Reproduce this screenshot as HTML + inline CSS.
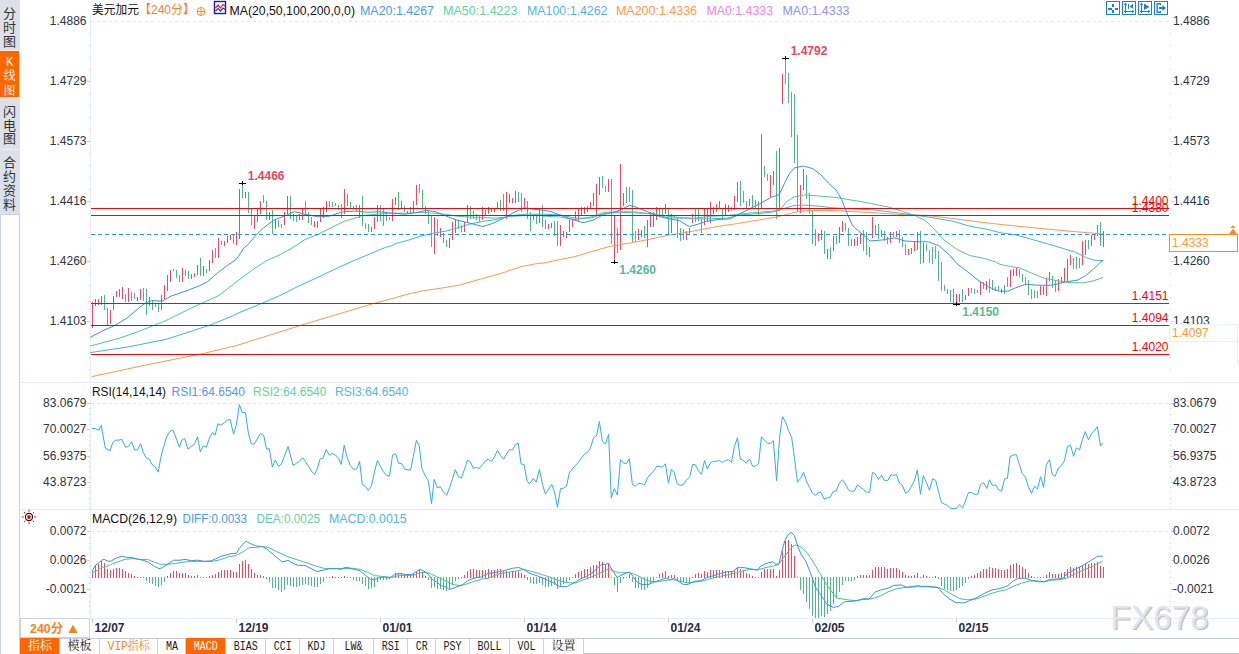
<!DOCTYPE html>
<html lang="zh"><head><meta charset="utf-8"><title>美元加元 240分 K线图</title>
<style>html,body{margin:0;padding:0;background:#fff;overflow:hidden}svg{display:block}text{white-space:pre}</style>
</head><body>
<svg width="1239" height="654" viewBox="0 0 1239 654">
<rect x="0" y="0" width="1239" height="654" fill="#fff"/>
<g shape-rendering="crispEdges">
<rect x="0" y="0" width="20" height="214" fill="#dee0e7" />
<rect x="0" y="51" width="19" height="46" fill="#ff6600" />
<line x1="0" y1="50.5" x2="20" y2="50.5" stroke="#eceef2" stroke-width="1" />
<line x1="0" y1="149.5" x2="20" y2="149.5" stroke="#eceef2" stroke-width="1" />
<rect x="0" y="214" width="20" height="440" fill="#ffffff" />
<line x1="0.5" y1="214" x2="0.5" y2="654" stroke="#c9d3e0" stroke-width="1" />
<line x1="19.5" y1="214" x2="19.5" y2="654" stroke="#c9d3e0" stroke-width="1" />
<line x1="0" y1="214.5" x2="20" y2="214.5" stroke="#c9d3e0" stroke-width="1" />
</g>
<text x="9.5" y="18.2" font-size="13" fill="#333" text-anchor="middle" font-weight="normal" font-family='"Liberation Sans","Noto Sans CJK SC",sans-serif' >分</text>
<text x="9.5" y="32.0" font-size="13" fill="#333" text-anchor="middle" font-weight="normal" font-family='"Liberation Sans","Noto Sans CJK SC",sans-serif' >时</text>
<text x="9.5" y="46.0" font-size="13" fill="#333" text-anchor="middle" font-weight="normal" font-family='"Liberation Sans","Noto Sans CJK SC",sans-serif' >图</text>
<text x="9.5" y="66.2" font-size="12" fill="#fff" text-anchor="middle" font-weight="normal" font-family='"Liberation Mono","Noto Serif CJK SC",serif' >K</text>
<text x="9.5" y="80.2" font-size="12" fill="#fff" text-anchor="middle" font-weight="normal" font-family='"Liberation Mono","Noto Serif CJK SC",serif' >线</text>
<text x="9.5" y="94.7" font-size="12" fill="#fff" text-anchor="middle" font-weight="normal" font-family='"Liberation Mono","Noto Serif CJK SC",serif' >图</text>
<text x="9.5" y="115.7" font-size="13" fill="#333" text-anchor="middle" font-weight="normal" font-family='"Liberation Sans","Noto Sans CJK SC",sans-serif' >闪</text>
<text x="9.5" y="129.5" font-size="13" fill="#333" text-anchor="middle" font-weight="normal" font-family='"Liberation Sans","Noto Sans CJK SC",sans-serif' >电</text>
<text x="9.5" y="143.2" font-size="13" fill="#333" text-anchor="middle" font-weight="normal" font-family='"Liberation Sans","Noto Sans CJK SC",sans-serif' >图</text>
<text x="9.5" y="167.29999999999998" font-size="13" fill="#333" text-anchor="middle" font-weight="normal" font-family='"Liberation Sans","Noto Sans CJK SC",sans-serif' >合</text>
<text x="9.5" y="181.2" font-size="13" fill="#333" text-anchor="middle" font-weight="normal" font-family='"Liberation Sans","Noto Sans CJK SC",sans-serif' >约</text>
<text x="9.5" y="194.7" font-size="13" fill="#333" text-anchor="middle" font-weight="normal" font-family='"Liberation Sans","Noto Sans CJK SC",sans-serif' >资</text>
<text x="9.5" y="208.7" font-size="13" fill="#333" text-anchor="middle" font-weight="normal" font-family='"Liberation Sans","Noto Sans CJK SC",sans-serif' >料</text>
<g shape-rendering="crispEdges">
<line x1="20" y1="382.5" x2="1239" y2="382.5" stroke="#e8edf4" stroke-width="1" />
<line x1="20" y1="509.5" x2="1239" y2="509.5" stroke="#e8edf4" stroke-width="1" />
<line x1="20" y1="618.5" x2="1239" y2="618.5" stroke="#e8edf4" stroke-width="1" />
<line x1="90.5" y1="16" x2="90.5" y2="618" stroke="#e8edf4" stroke-width="1" />
<line x1="91" y1="21.5" x2="1169" y2="21.5" stroke="#e6e9ee" stroke-width="1" stroke-dasharray="3 3"/>
<line x1="91" y1="403.5" x2="1169" y2="403.5" stroke="#e6e9ee" stroke-width="1" stroke-dasharray="3 3"/>
<line x1="91" y1="531.5" x2="1169" y2="531.5" stroke="#e6e9ee" stroke-width="1" stroke-dasharray="3 3"/>
</g>
<g shape-rendering="crispEdges">
<line x1="89" y1="33.5" x2="90" y2="33.5" stroke="#cdd3dc" stroke-width="1" />
<line x1="1170" y1="33.5" x2="1171" y2="33.5" stroke="#cdd3dc" stroke-width="1" />
<line x1="89" y1="45.5" x2="90" y2="45.5" stroke="#cdd3dc" stroke-width="1" />
<line x1="1170" y1="45.5" x2="1171" y2="45.5" stroke="#cdd3dc" stroke-width="1" />
<line x1="89" y1="57.5" x2="90" y2="57.5" stroke="#cdd3dc" stroke-width="1" />
<line x1="1170" y1="57.5" x2="1171" y2="57.5" stroke="#cdd3dc" stroke-width="1" />
<line x1="89" y1="69.5" x2="90" y2="69.5" stroke="#cdd3dc" stroke-width="1" />
<line x1="1170" y1="69.5" x2="1171" y2="69.5" stroke="#cdd3dc" stroke-width="1" />
<line x1="87" y1="81.5" x2="90" y2="81.5" stroke="#c5ccd6" stroke-width="1" />
<line x1="1171" y1="81.5" x2="1174" y2="81.5" stroke="#c5ccd6" stroke-width="1" />
<line x1="89" y1="93.5" x2="90" y2="93.5" stroke="#cdd3dc" stroke-width="1" />
<line x1="1170" y1="93.5" x2="1171" y2="93.5" stroke="#cdd3dc" stroke-width="1" />
<line x1="89" y1="105.5" x2="90" y2="105.5" stroke="#cdd3dc" stroke-width="1" />
<line x1="1170" y1="105.5" x2="1171" y2="105.5" stroke="#cdd3dc" stroke-width="1" />
<line x1="89" y1="117.5" x2="90" y2="117.5" stroke="#cdd3dc" stroke-width="1" />
<line x1="1170" y1="117.5" x2="1171" y2="117.5" stroke="#cdd3dc" stroke-width="1" />
<line x1="89" y1="129.5" x2="90" y2="129.5" stroke="#cdd3dc" stroke-width="1" />
<line x1="1170" y1="129.5" x2="1171" y2="129.5" stroke="#cdd3dc" stroke-width="1" />
<line x1="87" y1="141.5" x2="90" y2="141.5" stroke="#c5ccd6" stroke-width="1" />
<line x1="1171" y1="141.5" x2="1174" y2="141.5" stroke="#c5ccd6" stroke-width="1" />
<line x1="89" y1="153.5" x2="90" y2="153.5" stroke="#cdd3dc" stroke-width="1" />
<line x1="1170" y1="153.5" x2="1171" y2="153.5" stroke="#cdd3dc" stroke-width="1" />
<line x1="89" y1="165.5" x2="90" y2="165.5" stroke="#cdd3dc" stroke-width="1" />
<line x1="1170" y1="165.5" x2="1171" y2="165.5" stroke="#cdd3dc" stroke-width="1" />
<line x1="89" y1="177.5" x2="90" y2="177.5" stroke="#cdd3dc" stroke-width="1" />
<line x1="1170" y1="177.5" x2="1171" y2="177.5" stroke="#cdd3dc" stroke-width="1" />
<line x1="89" y1="189.5" x2="90" y2="189.5" stroke="#cdd3dc" stroke-width="1" />
<line x1="1170" y1="189.5" x2="1171" y2="189.5" stroke="#cdd3dc" stroke-width="1" />
<line x1="87" y1="201.5" x2="90" y2="201.5" stroke="#c5ccd6" stroke-width="1" />
<line x1="1171" y1="201.5" x2="1174" y2="201.5" stroke="#c5ccd6" stroke-width="1" />
<line x1="89" y1="213.5" x2="90" y2="213.5" stroke="#cdd3dc" stroke-width="1" />
<line x1="1170" y1="213.5" x2="1171" y2="213.5" stroke="#cdd3dc" stroke-width="1" />
<line x1="89" y1="225.5" x2="90" y2="225.5" stroke="#cdd3dc" stroke-width="1" />
<line x1="1170" y1="225.5" x2="1171" y2="225.5" stroke="#cdd3dc" stroke-width="1" />
<line x1="89" y1="237.5" x2="90" y2="237.5" stroke="#cdd3dc" stroke-width="1" />
<line x1="1170" y1="237.5" x2="1171" y2="237.5" stroke="#cdd3dc" stroke-width="1" />
<line x1="89" y1="249.5" x2="90" y2="249.5" stroke="#cdd3dc" stroke-width="1" />
<line x1="1170" y1="249.5" x2="1171" y2="249.5" stroke="#cdd3dc" stroke-width="1" />
<line x1="87" y1="261.5" x2="90" y2="261.5" stroke="#c5ccd6" stroke-width="1" />
<line x1="1171" y1="261.5" x2="1174" y2="261.5" stroke="#c5ccd6" stroke-width="1" />
<line x1="89" y1="273.5" x2="90" y2="273.5" stroke="#cdd3dc" stroke-width="1" />
<line x1="1170" y1="273.5" x2="1171" y2="273.5" stroke="#cdd3dc" stroke-width="1" />
<line x1="89" y1="285.5" x2="90" y2="285.5" stroke="#cdd3dc" stroke-width="1" />
<line x1="1170" y1="285.5" x2="1171" y2="285.5" stroke="#cdd3dc" stroke-width="1" />
<line x1="89" y1="297.5" x2="90" y2="297.5" stroke="#cdd3dc" stroke-width="1" />
<line x1="1170" y1="297.5" x2="1171" y2="297.5" stroke="#cdd3dc" stroke-width="1" />
<line x1="89" y1="309.5" x2="90" y2="309.5" stroke="#cdd3dc" stroke-width="1" />
<line x1="1170" y1="309.5" x2="1171" y2="309.5" stroke="#cdd3dc" stroke-width="1" />
<line x1="87" y1="321.5" x2="90" y2="321.5" stroke="#c5ccd6" stroke-width="1" />
<line x1="1171" y1="321.5" x2="1174" y2="321.5" stroke="#c5ccd6" stroke-width="1" />
<line x1="89" y1="333.5" x2="90" y2="333.5" stroke="#cdd3dc" stroke-width="1" />
<line x1="1170" y1="333.5" x2="1171" y2="333.5" stroke="#cdd3dc" stroke-width="1" />
<line x1="89" y1="345.5" x2="90" y2="345.5" stroke="#cdd3dc" stroke-width="1" />
<line x1="1170" y1="345.5" x2="1171" y2="345.5" stroke="#cdd3dc" stroke-width="1" />
<line x1="89" y1="357.5" x2="90" y2="357.5" stroke="#cdd3dc" stroke-width="1" />
<line x1="1170" y1="357.5" x2="1171" y2="357.5" stroke="#cdd3dc" stroke-width="1" />
<line x1="89" y1="369.5" x2="90" y2="369.5" stroke="#cdd3dc" stroke-width="1" />
<line x1="1170" y1="369.5" x2="1171" y2="369.5" stroke="#cdd3dc" stroke-width="1" />
</g>
<text x="86.5" y="24.8" font-size="12" fill="#2f3245" text-anchor="end" font-weight="normal" font-family='"Liberation Sans","Noto Sans CJK SC",sans-serif' >1.4886</text>
<text x="1173" y="24.8" font-size="12" fill="#2f3245" text-anchor="start" font-weight="normal" font-family='"Liberation Sans","Noto Sans CJK SC",sans-serif' >1.4886</text>
<text x="86.5" y="84.8" font-size="12" fill="#2f3245" text-anchor="end" font-weight="normal" font-family='"Liberation Sans","Noto Sans CJK SC",sans-serif' >1.4729</text>
<text x="1173" y="84.8" font-size="12" fill="#2f3245" text-anchor="start" font-weight="normal" font-family='"Liberation Sans","Noto Sans CJK SC",sans-serif' >1.4729</text>
<text x="86.5" y="144.8" font-size="12" fill="#2f3245" text-anchor="end" font-weight="normal" font-family='"Liberation Sans","Noto Sans CJK SC",sans-serif' >1.4573</text>
<text x="1173" y="144.8" font-size="12" fill="#2f3245" text-anchor="start" font-weight="normal" font-family='"Liberation Sans","Noto Sans CJK SC",sans-serif' >1.4573</text>
<text x="86.5" y="204.8" font-size="12" fill="#2f3245" text-anchor="end" font-weight="normal" font-family='"Liberation Sans","Noto Sans CJK SC",sans-serif' >1.4416</text>
<text x="1173" y="204.8" font-size="12" fill="#2f3245" text-anchor="start" font-weight="normal" font-family='"Liberation Sans","Noto Sans CJK SC",sans-serif' >1.4416</text>
<text x="86.5" y="264.8" font-size="12" fill="#2f3245" text-anchor="end" font-weight="normal" font-family='"Liberation Sans","Noto Sans CJK SC",sans-serif' >1.4260</text>
<text x="1173" y="264.8" font-size="12" fill="#2f3245" text-anchor="start" font-weight="normal" font-family='"Liberation Sans","Noto Sans CJK SC",sans-serif' >1.4260</text>
<text x="86.5" y="324.8" font-size="12" fill="#2f3245" text-anchor="end" font-weight="normal" font-family='"Liberation Sans","Noto Sans CJK SC",sans-serif' >1.4103</text>
<text x="1173" y="324.8" font-size="12" fill="#2f3245" text-anchor="start" font-weight="normal" font-family='"Liberation Sans","Noto Sans CJK SC",sans-serif' >1.4103</text>
<g shape-rendering="crispEdges">
<line x1="87" y1="403.5" x2="90" y2="403.5" stroke="#c5ccd6" stroke-width="1" />
<line x1="1171" y1="403.5" x2="1174" y2="403.5" stroke="#c5ccd6" stroke-width="1" />
<line x1="89" y1="408.5" x2="90" y2="408.5" stroke="#cdd3dc" stroke-width="1" />
<line x1="1170" y1="408.5" x2="1171" y2="408.5" stroke="#cdd3dc" stroke-width="1" />
<line x1="89" y1="414.5" x2="90" y2="414.5" stroke="#cdd3dc" stroke-width="1" />
<line x1="1170" y1="414.5" x2="1171" y2="414.5" stroke="#cdd3dc" stroke-width="1" />
<line x1="89" y1="419.5" x2="90" y2="419.5" stroke="#cdd3dc" stroke-width="1" />
<line x1="1170" y1="419.5" x2="1171" y2="419.5" stroke="#cdd3dc" stroke-width="1" />
<line x1="89" y1="424.5" x2="90" y2="424.5" stroke="#cdd3dc" stroke-width="1" />
<line x1="1170" y1="424.5" x2="1171" y2="424.5" stroke="#cdd3dc" stroke-width="1" />
<line x1="87" y1="429.5" x2="90" y2="429.5" stroke="#c5ccd6" stroke-width="1" />
<line x1="1171" y1="429.5" x2="1174" y2="429.5" stroke="#c5ccd6" stroke-width="1" />
<line x1="89" y1="435.5" x2="90" y2="435.5" stroke="#cdd3dc" stroke-width="1" />
<line x1="1170" y1="435.5" x2="1171" y2="435.5" stroke="#cdd3dc" stroke-width="1" />
<line x1="89" y1="440.5" x2="90" y2="440.5" stroke="#cdd3dc" stroke-width="1" />
<line x1="1170" y1="440.5" x2="1171" y2="440.5" stroke="#cdd3dc" stroke-width="1" />
<line x1="89" y1="445.5" x2="90" y2="445.5" stroke="#cdd3dc" stroke-width="1" />
<line x1="1170" y1="445.5" x2="1171" y2="445.5" stroke="#cdd3dc" stroke-width="1" />
<line x1="89" y1="450.5" x2="90" y2="450.5" stroke="#cdd3dc" stroke-width="1" />
<line x1="1170" y1="450.5" x2="1171" y2="450.5" stroke="#cdd3dc" stroke-width="1" />
<line x1="87" y1="456.5" x2="90" y2="456.5" stroke="#c5ccd6" stroke-width="1" />
<line x1="1171" y1="456.5" x2="1174" y2="456.5" stroke="#c5ccd6" stroke-width="1" />
<line x1="89" y1="461.5" x2="90" y2="461.5" stroke="#cdd3dc" stroke-width="1" />
<line x1="1170" y1="461.5" x2="1171" y2="461.5" stroke="#cdd3dc" stroke-width="1" />
<line x1="89" y1="466.5" x2="90" y2="466.5" stroke="#cdd3dc" stroke-width="1" />
<line x1="1170" y1="466.5" x2="1171" y2="466.5" stroke="#cdd3dc" stroke-width="1" />
<line x1="89" y1="471.5" x2="90" y2="471.5" stroke="#cdd3dc" stroke-width="1" />
<line x1="1170" y1="471.5" x2="1171" y2="471.5" stroke="#cdd3dc" stroke-width="1" />
<line x1="89" y1="477.5" x2="90" y2="477.5" stroke="#cdd3dc" stroke-width="1" />
<line x1="1170" y1="477.5" x2="1171" y2="477.5" stroke="#cdd3dc" stroke-width="1" />
<line x1="87" y1="482.5" x2="90" y2="482.5" stroke="#c5ccd6" stroke-width="1" />
<line x1="1171" y1="482.5" x2="1174" y2="482.5" stroke="#c5ccd6" stroke-width="1" />
<line x1="89" y1="487.5" x2="90" y2="487.5" stroke="#cdd3dc" stroke-width="1" />
<line x1="1170" y1="487.5" x2="1171" y2="487.5" stroke="#cdd3dc" stroke-width="1" />
<line x1="89" y1="492.5" x2="90" y2="492.5" stroke="#cdd3dc" stroke-width="1" />
<line x1="1170" y1="492.5" x2="1171" y2="492.5" stroke="#cdd3dc" stroke-width="1" />
<line x1="89" y1="498.5" x2="90" y2="498.5" stroke="#cdd3dc" stroke-width="1" />
<line x1="1170" y1="498.5" x2="1171" y2="498.5" stroke="#cdd3dc" stroke-width="1" />
<line x1="89" y1="503.5" x2="90" y2="503.5" stroke="#cdd3dc" stroke-width="1" />
<line x1="1170" y1="503.5" x2="1171" y2="503.5" stroke="#cdd3dc" stroke-width="1" />
<line x1="89" y1="508.5" x2="90" y2="508.5" stroke="#cdd3dc" stroke-width="1" />
<line x1="1170" y1="508.5" x2="1171" y2="508.5" stroke="#cdd3dc" stroke-width="1" />
<line x1="87" y1="531.5" x2="90" y2="531.5" stroke="#c5ccd6" stroke-width="1" />
<line x1="1171" y1="531.5" x2="1174" y2="531.5" stroke="#c5ccd6" stroke-width="1" />
<line x1="89" y1="537.5" x2="90" y2="537.5" stroke="#cdd3dc" stroke-width="1" />
<line x1="1170" y1="537.5" x2="1171" y2="537.5" stroke="#cdd3dc" stroke-width="1" />
<line x1="89" y1="543.5" x2="90" y2="543.5" stroke="#cdd3dc" stroke-width="1" />
<line x1="1170" y1="543.5" x2="1171" y2="543.5" stroke="#cdd3dc" stroke-width="1" />
<line x1="89" y1="548.5" x2="90" y2="548.5" stroke="#cdd3dc" stroke-width="1" />
<line x1="1170" y1="548.5" x2="1171" y2="548.5" stroke="#cdd3dc" stroke-width="1" />
<line x1="89" y1="554.5" x2="90" y2="554.5" stroke="#cdd3dc" stroke-width="1" />
<line x1="1170" y1="554.5" x2="1171" y2="554.5" stroke="#cdd3dc" stroke-width="1" />
<line x1="87" y1="560.5" x2="90" y2="560.5" stroke="#c5ccd6" stroke-width="1" />
<line x1="1171" y1="560.5" x2="1174" y2="560.5" stroke="#c5ccd6" stroke-width="1" />
<line x1="89" y1="566.5" x2="90" y2="566.5" stroke="#cdd3dc" stroke-width="1" />
<line x1="1170" y1="566.5" x2="1171" y2="566.5" stroke="#cdd3dc" stroke-width="1" />
<line x1="89" y1="572.5" x2="90" y2="572.5" stroke="#cdd3dc" stroke-width="1" />
<line x1="1170" y1="572.5" x2="1171" y2="572.5" stroke="#cdd3dc" stroke-width="1" />
<line x1="89" y1="577.5" x2="90" y2="577.5" stroke="#cdd3dc" stroke-width="1" />
<line x1="1170" y1="577.5" x2="1171" y2="577.5" stroke="#cdd3dc" stroke-width="1" />
<line x1="89" y1="583.5" x2="90" y2="583.5" stroke="#cdd3dc" stroke-width="1" />
<line x1="1170" y1="583.5" x2="1171" y2="583.5" stroke="#cdd3dc" stroke-width="1" />
<line x1="87" y1="589.5" x2="90" y2="589.5" stroke="#c5ccd6" stroke-width="1" />
<line x1="1171" y1="589.5" x2="1174" y2="589.5" stroke="#c5ccd6" stroke-width="1" />
<line x1="89" y1="595.5" x2="90" y2="595.5" stroke="#cdd3dc" stroke-width="1" />
<line x1="1170" y1="595.5" x2="1171" y2="595.5" stroke="#cdd3dc" stroke-width="1" />
<line x1="89" y1="601.5" x2="90" y2="601.5" stroke="#cdd3dc" stroke-width="1" />
<line x1="1170" y1="601.5" x2="1171" y2="601.5" stroke="#cdd3dc" stroke-width="1" />
<line x1="89" y1="606.5" x2="90" y2="606.5" stroke="#cdd3dc" stroke-width="1" />
<line x1="1170" y1="606.5" x2="1171" y2="606.5" stroke="#cdd3dc" stroke-width="1" />
<line x1="89" y1="612.5" x2="90" y2="612.5" stroke="#cdd3dc" stroke-width="1" />
<line x1="1170" y1="612.5" x2="1171" y2="612.5" stroke="#cdd3dc" stroke-width="1" />
<line x1="89" y1="618.5" x2="90" y2="618.5" stroke="#cdd3dc" stroke-width="1" />
<line x1="1170" y1="618.5" x2="1171" y2="618.5" stroke="#cdd3dc" stroke-width="1" />
</g>
<text x="86.5" y="407.3" font-size="12" fill="#2f3245" text-anchor="end" font-weight="normal" font-family='"Liberation Sans","Noto Sans CJK SC",sans-serif' >83.0679</text>
<text x="1173" y="407.3" font-size="12" fill="#2f3245" text-anchor="start" font-weight="normal" font-family='"Liberation Sans","Noto Sans CJK SC",sans-serif' >83.0679</text>
<text x="86.5" y="433.3" font-size="12" fill="#2f3245" text-anchor="end" font-weight="normal" font-family='"Liberation Sans","Noto Sans CJK SC",sans-serif' >70.0027</text>
<text x="1173" y="433.3" font-size="12" fill="#2f3245" text-anchor="start" font-weight="normal" font-family='"Liberation Sans","Noto Sans CJK SC",sans-serif' >70.0027</text>
<text x="86.5" y="459.8" font-size="12" fill="#2f3245" text-anchor="end" font-weight="normal" font-family='"Liberation Sans","Noto Sans CJK SC",sans-serif' >56.9375</text>
<text x="1173" y="459.8" font-size="12" fill="#2f3245" text-anchor="start" font-weight="normal" font-family='"Liberation Sans","Noto Sans CJK SC",sans-serif' >56.9375</text>
<text x="86.5" y="486.3" font-size="12" fill="#2f3245" text-anchor="end" font-weight="normal" font-family='"Liberation Sans","Noto Sans CJK SC",sans-serif' >43.8723</text>
<text x="1173" y="486.3" font-size="12" fill="#2f3245" text-anchor="start" font-weight="normal" font-family='"Liberation Sans","Noto Sans CJK SC",sans-serif' >43.8723</text>
<text x="86.5" y="535.3" font-size="12" fill="#2f3245" text-anchor="end" font-weight="normal" font-family='"Liberation Sans","Noto Sans CJK SC",sans-serif' >0.0072</text>
<text x="1173" y="535.3" font-size="12" fill="#2f3245" text-anchor="start" font-weight="normal" font-family='"Liberation Sans","Noto Sans CJK SC",sans-serif' >0.0072</text>
<text x="86.5" y="564.3" font-size="12" fill="#2f3245" text-anchor="end" font-weight="normal" font-family='"Liberation Sans","Noto Sans CJK SC",sans-serif' >0.0026</text>
<text x="1173" y="564.3" font-size="12" fill="#2f3245" text-anchor="start" font-weight="normal" font-family='"Liberation Sans","Noto Sans CJK SC",sans-serif' >0.0026</text>
<text x="86.5" y="593.3" font-size="12" fill="#2f3245" text-anchor="end" font-weight="normal" font-family='"Liberation Sans","Noto Sans CJK SC",sans-serif' >-0.0021</text>
<text x="1173" y="593.3" font-size="12" fill="#2f3245" text-anchor="start" font-weight="normal" font-family='"Liberation Sans","Noto Sans CJK SC",sans-serif' >-0.0021</text>
<text x="92" y="13.7" font-size="12" fill="#111" text-anchor="start" font-weight="normal" font-family='"Liberation Sans","Noto Sans CJK SC",sans-serif' textLength="47" lengthAdjust="spacingAndGlyphs">美元加元</text>
<text x="139" y="13.7" font-size="12" fill="#ff7f1a" text-anchor="start" font-weight="normal" font-family='"Liberation Sans","Noto Sans CJK SC",sans-serif' textLength="56" lengthAdjust="spacingAndGlyphs">【240分】</text>
<g stroke="#ff8a2a" stroke-width="1" fill="none"><circle cx="201" cy="11.5" r="4"/><line x1="197" y1="11.5" x2="205" y2="11.5"/><line x1="201" y1="7.5" x2="201" y2="15.5"/></g>
<g><rect x="214.5" y="1.5" width="11" height="12" fill="#fff" stroke="#1c1c9c" stroke-width="1.4"/><polyline points="215.5,8 218,5 220.5,8 223,4.5 225,6" fill="none" stroke="#e8192c" stroke-width="1.2"/><polyline points="215.5,11 218,8.5 220.5,11 223,8 225,9.5" fill="none" stroke="#2a3bd6" stroke-width="1.2"/></g>
<text x="229.5" y="14.5" font-size="13" fill="#111" text-anchor="start" font-weight="normal" font-family='"Liberation Sans","Noto Sans CJK SC",sans-serif' textLength="125.5" lengthAdjust="spacingAndGlyphs">MA(20,50,100,200,0,0)</text>
<text x="360" y="14.5" font-size="13" fill="#4a9af5" text-anchor="start" font-weight="normal" font-family='"Liberation Sans","Noto Sans CJK SC",sans-serif' textLength="74" lengthAdjust="spacingAndGlyphs">MA20:1.4267</text>
<text x="443" y="14.5" font-size="13" fill="#5fd3a0" text-anchor="start" font-weight="normal" font-family='"Liberation Sans","Noto Sans CJK SC",sans-serif' textLength="74.5" lengthAdjust="spacingAndGlyphs">MA50:1.4223</text>
<text x="527" y="14.5" font-size="13" fill="#4fb6ee" text-anchor="start" font-weight="normal" font-family='"Liberation Sans","Noto Sans CJK SC",sans-serif' textLength="80.5" lengthAdjust="spacingAndGlyphs">MA100:1.4262</text>
<text x="616" y="14.5" font-size="13" fill="#ff9650" text-anchor="start" font-weight="normal" font-family='"Liberation Sans","Noto Sans CJK SC",sans-serif' textLength="81" lengthAdjust="spacingAndGlyphs">MA200:1.4336</text>
<text x="706.5" y="14.5" font-size="13" fill="#f283e0" text-anchor="start" font-weight="normal" font-family='"Liberation Sans","Noto Sans CJK SC",sans-serif' textLength="66.5" lengthAdjust="spacingAndGlyphs">MA0:1.4333</text>
<text x="782.5" y="14.5" font-size="13" fill="#8f93f7" text-anchor="start" font-weight="normal" font-family='"Liberation Sans","Noto Sans CJK SC",sans-serif' textLength="67.0" lengthAdjust="spacingAndGlyphs">MA0:1.4333</text>
<g stroke="#1a80d9" fill="none" stroke-width="1" shape-rendering="crispEdges">
<rect x="1106.5" y="1.5" width="13" height="13" fill="#fff"/>
<rect x="1122.5" y="1.5" width="13" height="13" fill="#fff"/>
<rect x="1138.5" y="1.5" width="13" height="13" fill="#fff"/>
<rect x="1154.5" y="1.5" width="13" height="13" fill="#fff"/>
</g>
<g fill="#1a80d9" shape-rendering="crispEdges"><rect x="1112" y="4" width="2" height="3"/><rect x="1112" y="10" width="2" height="3"/><rect x="1108" y="7.5" width="3.5" height="2"/><rect x="1114.5" y="7.5" width="3.5" height="2"/></g>
<g stroke="#1a80d9" fill="#1a80d9" stroke-width="1" shape-rendering="crispEdges"><line x1="1125.5" y1="3" x2="1125.5" y2="13"/><line x1="1124" y1="11.5" x2="1134" y2="11.5"/><line x1="1128.5" y1="4" x2="1128.5" y2="9"/></g><path d="M1133 4 L1129.5 6.5 L1133 9 Z" fill="#1a80d9"/>
<g stroke="#1a80d9" fill="#1a80d9" stroke-width="1" shape-rendering="crispEdges"><line x1="1141.5" y1="3" x2="1141.5" y2="13"/><line x1="1140" y1="11.5" x2="1150" y2="11.5"/></g><path d="M1144 3.5 L1149.5 7 L1144 10 Z" fill="#1a80d9"/>
<path d="M1125.5 2.6 l-1.8 2.2 h3.6 Z M1134.4 11.5 l-2.2 -1.8 v3.6 Z M1123.6 11.5 l2 -1.6 v3.2 Z" fill="#1a80d9"/>
<path d="M1141.5 2.6 l-1.8 2.2 h3.6 Z M1150.4 11.5 l-2.2 -1.8 v3.6 Z M1139.6 11.5 l2 -1.6 v3.2 Z" fill="#1a80d9"/>
<g stroke="#1a80d9" fill="none" stroke-width="1.4"><path d="M1160.5 5 V3.7 H1157.2 V12.3 H1160.5 V11"/></g><path d="M1159 7 H1162.5 V5 L1166 8 L1162.5 11 V9 H1159 Z" fill="#1a80d9"/>
<text x="92" y="396" font-size="13" fill="#111" text-anchor="start" font-weight="normal" font-family='"Liberation Sans","Noto Sans CJK SC",sans-serif' textLength="74" lengthAdjust="spacingAndGlyphs">RSI(14,14,14)</text>
<text x="171.5" y="396" font-size="13" fill="#4a9af5" text-anchor="start" font-weight="normal" font-family='"Liberation Sans","Noto Sans CJK SC",sans-serif' textLength="73.5" lengthAdjust="spacingAndGlyphs">RSI1:64.6540</text>
<text x="253" y="396" font-size="13" fill="#5fd3a0" text-anchor="start" font-weight="normal" font-family='"Liberation Sans","Noto Sans CJK SC",sans-serif' textLength="73.5" lengthAdjust="spacingAndGlyphs">RSI2:64.6540</text>
<text x="335" y="396" font-size="13" fill="#4fb6ee" text-anchor="start" font-weight="normal" font-family='"Liberation Sans","Noto Sans CJK SC",sans-serif' textLength="73.5" lengthAdjust="spacingAndGlyphs">RSI3:64.6540</text>
<text x="92" y="523.3" font-size="13" fill="#111" text-anchor="start" font-weight="normal" font-family='"Liberation Sans","Noto Sans CJK SC",sans-serif' textLength="85" lengthAdjust="spacingAndGlyphs">MACD(26,12,9)</text>
<text x="182.5" y="523.3" font-size="13" fill="#4a9af5" text-anchor="start" font-weight="normal" font-family='"Liberation Sans","Noto Sans CJK SC",sans-serif' textLength="64.5" lengthAdjust="spacingAndGlyphs">DIFF:0.0033</text>
<text x="256.5" y="523.3" font-size="13" fill="#5fd3a0" text-anchor="start" font-weight="normal" font-family='"Liberation Sans","Noto Sans CJK SC",sans-serif' textLength="63.5" lengthAdjust="spacingAndGlyphs">DEA:0.0025</text>
<text x="329" y="523.3" font-size="13" fill="#4fb6ee" text-anchor="start" font-weight="normal" font-family='"Liberation Sans","Noto Sans CJK SC",sans-serif' textLength="77.5" lengthAdjust="spacingAndGlyphs">MACD:0.0015</text>
<g><circle cx="29" cy="517" r="3.6" fill="#fff" stroke="#111" stroke-width="1.1"/><circle cx="29" cy="517" r="1.9" fill="#f00"/><g stroke="#f00" stroke-width="1">
<line x1="34.20" y1="517.00" x2="36.20" y2="517.00"/>
<line x1="32.68" y1="520.68" x2="34.09" y2="522.09"/>
<line x1="29.00" y1="522.20" x2="29.00" y2="524.20"/>
<line x1="25.32" y1="520.68" x2="23.91" y2="522.09"/>
<line x1="23.80" y1="517.00" x2="21.80" y2="517.00"/>
<line x1="25.32" y1="513.32" x2="23.91" y2="511.91"/>
<line x1="29.00" y1="511.80" x2="29.00" y2="509.80"/>
<line x1="32.68" y1="513.32" x2="34.09" y2="511.91"/>
</g></g>
<g shape-rendering="crispEdges">
<rect x="20.5" y="618.5" width="69" height="19" fill="#fff" stroke="#c9d3e0" />
<line x1="92.5" y1="619" x2="92.5" y2="623" stroke="#c5ccd6" stroke-width="1" />
<line x1="236.5" y1="619" x2="236.5" y2="623" stroke="#c5ccd6" stroke-width="1" />
<line x1="380.5" y1="619" x2="380.5" y2="623" stroke="#c5ccd6" stroke-width="1" />
<line x1="524.5" y1="619" x2="524.5" y2="623" stroke="#c5ccd6" stroke-width="1" />
<line x1="668.5" y1="619" x2="668.5" y2="623" stroke="#c5ccd6" stroke-width="1" />
<line x1="812.5" y1="619" x2="812.5" y2="623" stroke="#c5ccd6" stroke-width="1" />
<line x1="956.5" y1="619" x2="956.5" y2="623" stroke="#c5ccd6" stroke-width="1" />
</g>
<text x="94.5" y="632" font-size="12" fill="#2b2d3e" text-anchor="start" font-weight="bold" font-family='"Liberation Sans","Noto Sans CJK SC",sans-serif' >12/07</text>
<text x="238.5" y="632" font-size="12" fill="#2b2d3e" text-anchor="start" font-weight="bold" font-family='"Liberation Sans","Noto Sans CJK SC",sans-serif' >12/19</text>
<text x="382.5" y="632" font-size="12" fill="#2b2d3e" text-anchor="start" font-weight="bold" font-family='"Liberation Sans","Noto Sans CJK SC",sans-serif' >01/01</text>
<text x="526.5" y="632" font-size="12" fill="#2b2d3e" text-anchor="start" font-weight="bold" font-family='"Liberation Sans","Noto Sans CJK SC",sans-serif' >01/14</text>
<text x="670.5" y="632" font-size="12" fill="#2b2d3e" text-anchor="start" font-weight="bold" font-family='"Liberation Sans","Noto Sans CJK SC",sans-serif' >01/24</text>
<text x="814.5" y="632" font-size="12" fill="#2b2d3e" text-anchor="start" font-weight="bold" font-family='"Liberation Sans","Noto Sans CJK SC",sans-serif' >02/05</text>
<text x="958.5" y="632" font-size="12" fill="#2b2d3e" text-anchor="start" font-weight="bold" font-family='"Liberation Sans","Noto Sans CJK SC",sans-serif' >02/15</text>
<text x="30" y="633" font-size="12.5" fill="#ff7f1a" text-anchor="start" font-weight="bold" font-family='"Liberation Sans","Noto Sans CJK SC",sans-serif' textLength="33" lengthAdjust="spacingAndGlyphs">240分</text>
<path d="M68.5 633 L73 624.5 L77.5 633 Z" fill="#ff7f1a"/>
<g shape-rendering="crispEdges">
<line x1="20" y1="638.5" x2="1239" y2="638.5" stroke="#c5cdd8" stroke-width="1" />
<line x1="583" y1="653.5" x2="1239" y2="653.5" stroke="#c3cad3" stroke-width="1" />
<rect x="20" y="638" width="39" height="16" fill="#ff6600" />
<line x1="59.5" y1="639" x2="59.5" y2="654" stroke="#c9d3e0" stroke-width="1" />
<line x1="99.5" y1="639" x2="99.5" y2="654" stroke="#c9d3e0" stroke-width="1" />
<line x1="157.5" y1="639" x2="157.5" y2="654" stroke="#c9d3e0" stroke-width="1" />
<line x1="185.5" y1="639" x2="185.5" y2="654" stroke="#c9d3e0" stroke-width="1" />
<rect x="185.5" y="638" width="39.5" height="16" fill="#ff6600" />
<line x1="225.5" y1="639" x2="225.5" y2="654" stroke="#c9d3e0" stroke-width="1" />
<line x1="265.5" y1="639" x2="265.5" y2="654" stroke="#c9d3e0" stroke-width="1" />
<line x1="299.5" y1="639" x2="299.5" y2="654" stroke="#c9d3e0" stroke-width="1" />
<line x1="333.5" y1="639" x2="333.5" y2="654" stroke="#c9d3e0" stroke-width="1" />
<line x1="373.5" y1="639" x2="373.5" y2="654" stroke="#c9d3e0" stroke-width="1" />
<line x1="407.5" y1="639" x2="407.5" y2="654" stroke="#c9d3e0" stroke-width="1" />
<line x1="435.5" y1="639" x2="435.5" y2="654" stroke="#c9d3e0" stroke-width="1" />
<line x1="469.5" y1="639" x2="469.5" y2="654" stroke="#c9d3e0" stroke-width="1" />
<line x1="509.5" y1="639" x2="509.5" y2="654" stroke="#c9d3e0" stroke-width="1" />
<line x1="543.5" y1="639" x2="543.5" y2="654" stroke="#c9d3e0" stroke-width="1" />
<line x1="583.5" y1="639" x2="583.5" y2="654" stroke="#c9d3e0" stroke-width="1" />
</g>
<text x="28.0" y="650" font-size="12" fill="#fff" text-anchor="start" font-weight="normal" font-family='"Liberation Mono","Noto Serif CJK SC",monospace' textLength="24" lengthAdjust="spacingAndGlyphs">指标</text>
<text x="67.5" y="650" font-size="12" fill="#222" text-anchor="start" font-weight="normal" font-family='"Liberation Mono","Noto Serif CJK SC",monospace' textLength="24" lengthAdjust="spacingAndGlyphs">模板</text>
<text x="107.75" y="650" font-size="12" fill="#ff7f1a" text-anchor="start" font-weight="normal" font-family='"Liberation Mono","Noto Serif CJK SC",monospace' textLength="42" lengthAdjust="spacingAndGlyphs">VIP指标</text>
<text x="166.0" y="650" font-size="12" fill="#222" text-anchor="start" font-weight="normal" font-family='"Liberation Mono","Noto Serif CJK SC",monospace' textLength="12" lengthAdjust="spacingAndGlyphs">MA</text>
<text x="193.75" y="650" font-size="12" fill="#fff" text-anchor="start" font-weight="normal" font-family='"Liberation Mono","Noto Serif CJK SC",monospace' textLength="24" lengthAdjust="spacingAndGlyphs">MACD</text>
<text x="233.75" y="650" font-size="12" fill="#222" text-anchor="start" font-weight="normal" font-family='"Liberation Mono","Noto Serif CJK SC",monospace' textLength="24" lengthAdjust="spacingAndGlyphs">BIAS</text>
<text x="273.75" y="650" font-size="12" fill="#222" text-anchor="start" font-weight="normal" font-family='"Liberation Mono","Noto Serif CJK SC",monospace' textLength="18" lengthAdjust="spacingAndGlyphs">CCI</text>
<text x="307.5" y="650" font-size="12" fill="#222" text-anchor="start" font-weight="normal" font-family='"Liberation Mono","Noto Serif CJK SC",monospace' textLength="18" lengthAdjust="spacingAndGlyphs">KDJ</text>
<text x="344.5" y="650" font-size="12" fill="#222" text-anchor="start" font-weight="normal" font-family='"Liberation Mono","Noto Serif CJK SC",monospace' textLength="18" lengthAdjust="spacingAndGlyphs">LW&amp;</text>
<text x="381.75" y="650" font-size="12" fill="#222" text-anchor="start" font-weight="normal" font-family='"Liberation Mono","Noto Serif CJK SC",monospace' textLength="18" lengthAdjust="spacingAndGlyphs">RSI</text>
<text x="415.75" y="650" font-size="12" fill="#222" text-anchor="start" font-weight="normal" font-family='"Liberation Mono","Noto Serif CJK SC",monospace' textLength="12" lengthAdjust="spacingAndGlyphs">CR</text>
<text x="443.5" y="650" font-size="12" fill="#222" text-anchor="start" font-weight="normal" font-family='"Liberation Mono","Noto Serif CJK SC",monospace' textLength="18" lengthAdjust="spacingAndGlyphs">PSY</text>
<text x="477.5" y="650" font-size="12" fill="#222" text-anchor="start" font-weight="normal" font-family='"Liberation Mono","Noto Serif CJK SC",monospace' textLength="24" lengthAdjust="spacingAndGlyphs">BOLL</text>
<text x="517.5" y="650" font-size="12" fill="#222" text-anchor="start" font-weight="normal" font-family='"Liberation Mono","Noto Serif CJK SC",monospace' textLength="18" lengthAdjust="spacingAndGlyphs">VOL</text>
<text x="551.5" y="650" font-size="12" fill="#222" text-anchor="start" font-weight="normal" font-family='"Liberation Mono","Noto Serif CJK SC",monospace' textLength="24" lengthAdjust="spacingAndGlyphs">设置</text>
<path d="M92.5 302V328M95.5 299V306M98.5 299V305M101.5 296V305M110.5 310V324M113.5 296V310M116.5 291V297M119.5 289V297M122.5 287V299M128.5 288V302M137.5 297V301M140.5 289V300M149.5 297V306M161.5 295V310M164.5 285V300M167.5 275V291M170.5 270V282M173.5 269V271M182.5 268V282M191.5 274V279M194.5 273V277M197.5 265V275M203.5 266V276M209.5 260V271M212.5 250V263M218.5 238V258M224.5 241V246M227.5 236V243M230.5 235V240M236.5 232V245M239.5 189V239M245.5 192V198M254.5 215V229M257.5 208V222M260.5 201V214M269.5 212V220M275.5 219V229M284.5 212V225M287.5 196V214M299.5 214V220M302.5 209V220M314.5 221V227M317.5 221V228M320.5 208V222M323.5 207V218M326.5 201V212M344.5 189V214M359.5 205V218M371.5 227V232M374.5 217V229M377.5 205V222M392.5 199V221M395.5 197V205M401.5 201V209M407.5 211V214M413.5 201V212M416.5 185V205M434.5 217V254M440.5 228V237M449.5 238V248M452.5 222V240M455.5 220V233M464.5 222V232M467.5 205V223M482.5 207V220M485.5 210V216M488.5 207V214M491.5 208V212M494.5 209V212M497.5 202V208M506.5 192V219M509.5 194V203M512.5 198V203M515.5 191V203M524.5 198V207M533.5 215V220M539.5 208V223M548.5 224V229M551.5 223V228M560.5 225V246M563.5 231V237M566.5 232V238M569.5 220V232M572.5 220V227M575.5 211V220M578.5 208V221M581.5 207V215M584.5 207V214M587.5 206V212M590.5 202V208M593.5 193V206M596.5 184V215M599.5 177V195M608.5 179V192M614.5 215V262M620.5 164V250M623.5 193V206M638.5 229V240M641.5 230V237M647.5 220V247M650.5 212V227M653.5 212V227M656.5 207V220M665.5 204V214M671.5 214V233M686.5 231V240M689.5 228V234M692.5 214V223M704.5 208V225M707.5 209V222M710.5 202V223M713.5 207V214M716.5 204V212M719.5 201V208M725.5 204V215M728.5 205V212M734.5 196V210M737.5 182V202M749.5 199V206M761.5 134V208M770.5 175V197M773.5 171V185M779.5 148V211M782.5 74V104M800.5 185V213M803.5 169V190M818.5 233V241M821.5 230V240M827.5 249V259M833.5 236V251M839.5 227V243M842.5 221V232M854.5 239V246M857.5 237V246M860.5 234V244M869.5 247V257M872.5 217V238M881.5 230V237M890.5 232V243M896.5 231V237M908.5 249V255M911.5 248V254M914.5 241V251M917.5 232V250M923.5 243V263M956.5 294V304M959.5 294V302M965.5 295V300M968.5 288V296M980.5 282V295M986.5 281V290M1001.5 289V293M1010.5 270V287M1013.5 269V276M1016.5 268V276M1040.5 286V295M1043.5 286V295M1046.5 278V296M1049.5 272V281M1058.5 279V291M1061.5 277V283M1064.5 268V282M1067.5 259V281M1070.5 255V265M1082.5 241V265M1085.5 240V255M1091.5 235V246M1094.5 234V240M1097.5 225V236M1103.5 231V247" stroke="#ea4a62" stroke-width="1" fill="none" shape-rendering="crispEdges"/>
<path d="M104.5 295V310M107.5 308V326M125.5 294V302M131.5 292V301M134.5 293V299M143.5 288V301M146.5 289V315M152.5 300V310M155.5 304V307M158.5 303V312M176.5 270V278M179.5 275V282M185.5 270V276M188.5 271V279M200.5 258V276M206.5 269V273M215.5 248V258M221.5 241V245M233.5 234V244M242.5 183V198M248.5 192V213M251.5 208V225M263.5 195V203M266.5 201V220M272.5 210V234M278.5 220V227M281.5 224V228M290.5 196V219M293.5 214V221M296.5 216V222M305.5 201V215M308.5 212V223M311.5 217V225M329.5 201V207M332.5 202V207M335.5 203V206M338.5 205V210M341.5 204V218M347.5 194V206M350.5 202V208M353.5 206V210M356.5 205V212M362.5 196V226M365.5 223V229M368.5 224V232M380.5 205V221M383.5 208V226M386.5 212V221M389.5 217V220M398.5 192V210M404.5 206V212M410.5 207V214M419.5 184V193M422.5 190V209M425.5 206V214M428.5 211V224M431.5 216V247M437.5 219V236M443.5 233V243M446.5 240V247M458.5 220V229M461.5 225V232M470.5 206V219M473.5 211V219M476.5 214V220M479.5 216V222M500.5 200V211M503.5 194V211M518.5 192V202M521.5 193V212M527.5 201V219M530.5 212V231M536.5 214V224M542.5 205V227M545.5 220V229M554.5 221V236M557.5 221V246M602.5 176V188M605.5 186V192M611.5 179V244M617.5 228V253M626.5 187V203M629.5 187V202M632.5 190V242M635.5 231V242M644.5 226V238M659.5 208V216M662.5 208V215M668.5 208V234M674.5 216V218M677.5 218V238M680.5 228V241M683.5 229V240M695.5 209V222M698.5 209V221M701.5 219V233M722.5 209V220M731.5 207V211M740.5 181V206M743.5 191V203M746.5 201V208M752.5 195V208M755.5 200V208M758.5 201V216M764.5 166V177M767.5 174V181M776.5 151V219M785.5 59V84M788.5 73V103M791.5 92V137M794.5 94V163M797.5 135V212M806.5 175V199M809.5 193V214M812.5 210V244M815.5 229V246M824.5 231V254M830.5 247V259M836.5 236V244M845.5 223V231M848.5 228V246M851.5 239V246M863.5 230V251M866.5 232V255M875.5 225V234M878.5 224V239M884.5 231V241M887.5 237V244M893.5 232V237M899.5 230V243M902.5 237V247M905.5 244V255M920.5 231V264M926.5 244V251M929.5 250V263M932.5 247V264M935.5 246V259M938.5 251V281M941.5 262V291M944.5 285V291M947.5 289V294M950.5 290V302M953.5 289V303M962.5 289V302M971.5 288V293M974.5 289V294M977.5 290V293M983.5 282V289M989.5 279V293M992.5 280V290M995.5 287V291M998.5 286V291M1004.5 285V294M1007.5 277V287M1019.5 269V277M1022.5 274V282M1025.5 277V285M1028.5 280V295M1031.5 289V299M1034.5 290V298M1037.5 291V298M1052.5 276V288M1055.5 280V292M1073.5 258V269M1076.5 257V269M1079.5 258V268M1088.5 240V249M1100.5 222V246" stroke="#4db88a" stroke-width="1" fill="none" shape-rendering="crispEdges"/>
<polyline points="92.0,376.6 142.0,365.8 203.0,353.6 237.0,345.4 305.0,324.0 373.0,303.7 392.0,298.6 407.6,294.2 423.2,290.8 443.9,287.7 459.5,285.1 480.3,279.1 501.1,273.4 521.9,266.4 537.5,263.5 544.0,263.0 559.6,259.6 575.2,256.5 590.8,251.8 608.9,246.6 627.1,243.5 647.9,239.6 668.7,235.2 689.5,231.8 696.0,230.5 716.8,226.6 737.6,223.5 758.3,220.1 776.5,217.0 786.9,214.4 797.3,211.8 810.3,210.5 825.9,210.3 841.5,211.0 848.0,211.4 874.0,212.7 899.9,214.5 925.9,215.3 951.9,218.4 977.9,221.8 993.5,223.6 1000.0,224.4 1026.0,227.0 1051.9,229.6 1077.9,231.9 1103.1,234.0" fill="none" stroke="#ff9650" stroke-width="1" stroke-linejoin="round" />
<polyline points="90.1,352.6 127.0,347.1 165.9,339.4 191.9,331.0 210.1,325.1 233.5,315.5 240.0,312.3 260.8,303.8 279.0,296.0 297.1,286.9 317.9,277.3 338.7,267.4 354.3,260.4 369.9,253.9 385.5,247.4 392.0,245.6 395.8,243.5 407.6,240.4 420.6,236.2 433.6,233.1 446.5,231.0 459.5,227.4 469.9,224.0 482.9,221.4 495.9,219.6 506.3,217.0 516.7,214.9 527.1,214.2 544.0,214.2 559.6,214.9 575.2,218.1 590.8,218.1 603.7,213.6 619.3,212.3 634.9,212.9 653.1,213.6 668.7,218.1 684.3,218.1 696.0,218.8 711.6,218.8 727.2,218.1 740.2,214.9 758.3,213.6 773.9,211.8 784.3,208.4 794.7,205.3 805.1,205.1 820.7,206.4 831.1,207.7 848.0,208.6 874.0,209.9 899.9,213.2 925.9,216.6 951.9,221.0 970.1,226.2 988.3,229.6 1000.0,232.7 1015.6,234.8 1031.2,239.2 1046.8,243.6 1062.3,248.3 1075.3,252.2 1085.7,257.4 1093.5,260.0 1103.1,260.8" fill="none" stroke="#3fb4ea" stroke-width="1" stroke-linejoin="round" />
<polyline points="90.1,346.1 119.2,338.3 139.9,331.0 165.9,320.6 191.9,307.7 204.9,301.9 217.9,296.0 233.5,284.3 240.0,279.1 253.0,269.5 266.0,260.9 279.0,255.2 291.9,248.2 304.9,239.6 317.9,234.4 330.9,227.9 343.9,221.4 356.9,217.5 362.1,215.5 375.1,214.4 388.1,213.1 392.0,213.1 407.6,213.1 423.2,212.3 446.5,214.4 456.9,216.2 469.9,217.0 480.3,217.5 495.9,218.1 506.3,217.0 514.1,216.2 537.5,214.9 544.0,216.2 559.6,217.0 575.2,219.6 590.8,217.0 603.7,212.3 619.3,211.8 634.9,211.8 647.9,213.6 658.3,214.9 673.9,217.0 689.5,218.1 696.0,218.1 711.6,216.2 727.2,215.5 742.8,213.6 758.3,212.3 773.9,211.0 781.7,207.7 786.9,201.4 794.7,196.8 805.1,194.9 820.7,196.2 836.3,197.5 848.0,199.5 861.0,201.6 876.6,204.7 889.6,207.3 902.5,211.4 915.5,215.8 925.9,221.0 933.7,228.8 944.1,240.0 957.1,249.6 970.1,255.6 983.1,258.2 996.1,262.1 1000.0,264.4 1010.4,266.5 1019.5,267.8 1031.2,273.0 1044.2,278.2 1057.1,280.8 1070.1,282.6 1083.1,282.9 1093.5,280.8 1103.1,277.4" fill="none" stroke="#52c795" stroke-width="1" stroke-linejoin="round" />
<polyline points="90.1,337.5 101.0,331.6 114.0,325.8 127.0,318.1 139.9,307.1 146.4,302.5 151.6,300.6 162.0,301.2 171.1,296.0 186.7,290.8 199.7,285.6 207.5,281.7 217.9,272.6 228.3,264.8 236.1,259.6 240.0,253.9 243.8,247.9 247.8,244.8 255.6,235.7 263.4,227.9 268.6,224.0 273.8,220.1 284.2,216.2 294.5,211.6 304.9,214.2 317.9,216.8 329.6,216.2 338.7,213.1 343.9,211.8 356.9,211.0 367.3,212.3 380.3,211.8 390.6,213.1 405.0,214.2 418.0,212.3 425.8,210.3 436.2,211.8 446.5,216.2 456.9,220.1 469.9,223.2 482.9,226.6 493.3,223.2 503.7,218.1 514.1,212.3 524.5,207.7 533.6,209.2 544.0,210.3 551.8,211.8 559.6,214.9 570.0,218.8 583.0,222.7 593.4,220.1 603.7,214.4 614.1,212.3 621.9,209.2 629.7,205.3 637.5,207.7 647.9,211.8 658.3,216.2 668.7,218.8 679.1,220.6 689.5,226.6 696.0,224.8 706.4,221.4 716.8,219.6 729.8,218.8 740.2,213.6 750.5,208.4 760.9,203.2 771.3,197.3 779.1,194.7 784.3,183.8 789.5,173.4 794.7,167.7 803.8,166.1 812.9,168.7 820.7,174.7 828.5,183.2 836.3,190.3 841.5,199.4 846.6,212.3 851.8,224.0 854.5,227.5 863.6,235.3 870.1,241.0 881.8,240.0 894.8,237.9 905.1,241.0 918.1,241.8 928.5,241.8 938.9,245.7 949.3,254.8 957.1,263.9 967.5,271.7 977.9,280.0 988.3,286.8 998.6,291.2 1007.8,291.2 1015.6,287.8 1026.0,284.2 1036.4,285.2 1051.9,285.2 1064.9,282.1 1077.9,280.0 1085.7,275.6 1093.5,269.1 1100.0,262.6 1103.1,260.0" fill="none" stroke="#3a8ff0" stroke-width="1" stroke-linejoin="round" />
<g shape-rendering="crispEdges">
<line x1="91" y1="234.5" x2="1169" y2="234.5" stroke="#1e90ff" stroke-width="1" stroke-dasharray="4 3"/>
<line x1="91" y1="208.5" x2="1169" y2="208.5" stroke="#ff0000" stroke-width="1" />
<line x1="91" y1="215.5" x2="1169" y2="215.5" stroke="#ff0000" stroke-width="1" />
<line x1="91" y1="303.5" x2="1169" y2="303.5" stroke="#ff0000" stroke-width="1" />
<line x1="91" y1="325.5" x2="1169" y2="325.5" stroke="#ff0000" stroke-width="1" />
<line x1="91" y1="354.5" x2="1169" y2="354.5" stroke="#ff0000" stroke-width="1" />
</g>
<text x="1168.5" y="205" font-size="12" fill="#ff0000" text-anchor="end" font-weight="normal" font-family='"Liberation Sans","Noto Sans CJK SC",sans-serif' >1.4400</text>
<text x="1168.5" y="212" font-size="12" fill="#ff0000" text-anchor="end" font-weight="normal" font-family='"Liberation Sans","Noto Sans CJK SC",sans-serif' >1.4380</text>
<text x="1168.5" y="299.5" font-size="12" fill="#ff0000" text-anchor="end" font-weight="normal" font-family='"Liberation Sans","Noto Sans CJK SC",sans-serif' >1.4151</text>
<text x="1168.5" y="321.7" font-size="12" fill="#ff0000" text-anchor="end" font-weight="normal" font-family='"Liberation Sans","Noto Sans CJK SC",sans-serif' >1.4094</text>
<text x="1168.5" y="350.8" font-size="12" fill="#ff0000" text-anchor="end" font-weight="normal" font-family='"Liberation Sans","Noto Sans CJK SC",sans-serif' >1.4020</text>
<g shape-rendering="crispEdges">
<rect x="1169.5" y="234.5" width="68" height="17" fill="#fff" stroke="#ff8a1a" />
<rect x="1169.5" y="324.5" width="68" height="17" fill="#fff" stroke="#e9eef4" />
<line x1="1237.5" y1="341" x2="1237.5" y2="364" stroke="#e9eef4" stroke-width="1" />
</g>
<text x="1172" y="247" font-size="12" fill="#ff9a30" text-anchor="start" font-weight="normal" font-family='"Liberation Sans","Noto Sans CJK SC",sans-serif' >1.4333</text>
<text x="1172" y="337.3" font-size="12" fill="#ff9a30" text-anchor="start" font-weight="normal" font-family='"Liberation Sans","Noto Sans CJK SC",sans-serif' >1.4097</text>
<path d="M1229 234 L1233 228.5 L1237 234 Z M1230.5 228 L1233 225 L1235.5 228 Z" fill="#ff8a1a"/>
<g stroke="#000" stroke-width="1" shape-rendering="crispEdges"><line x1="782" y1="58.5" x2="789" y2="58.5"/><line x1="785.5" y1="56" x2="785.5" y2="60"/></g>
<text x="790.7" y="55.3" font-size="12" fill="#e8465c" text-anchor="start" font-weight="bold" font-family='"Liberation Sans","Noto Sans CJK SC",sans-serif' >1.4792</text>
<g stroke="#000" stroke-width="1" shape-rendering="crispEdges"><line x1="239" y1="183.5" x2="246" y2="183.5"/><line x1="242.5" y1="181" x2="242.5" y2="185"/></g>
<text x="247.8" y="180.3" font-size="12" fill="#e8465c" text-anchor="start" font-weight="bold" font-family='"Liberation Sans","Noto Sans CJK SC",sans-serif' >1.4466</text>
<g stroke="#000" stroke-width="1" shape-rendering="crispEdges"><line x1="611" y1="262.5" x2="618" y2="262.5"/><line x1="614.5" y1="260" x2="614.5" y2="264"/></g>
<text x="619.3" y="273.8" font-size="12" fill="#5cb894" text-anchor="start" font-weight="bold" font-family='"Liberation Sans","Noto Sans CJK SC",sans-serif' >1.4260</text>
<g stroke="#000" stroke-width="1" shape-rendering="crispEdges"><line x1="953" y1="304.5" x2="960" y2="304.5"/><line x1="956.5" y1="302" x2="956.5" y2="306"/></g>
<text x="962.3" y="315.8" font-size="12" fill="#5cb894" text-anchor="start" font-weight="bold" font-family='"Liberation Sans","Noto Sans CJK SC",sans-serif' >1.4150</text>
<polyline points="92.0,428.4 95.3,428.6 98.6,430.2 101.2,425.6 105.4,448.2 110.0,451.0 112.8,442.3 115.5,440.3 119.2,440.0 121.9,439.4 125.6,447.3 128.4,446.4 131.5,441.8 134.8,450.0 137.5,450.0 140.7,443.6 143.0,451.9 146.2,457.9 148.9,458.7 152.2,464.7 155.0,466.6 158.3,472.1 160.5,459.2 163.2,448.2 166.9,436.3 169.7,431.7 173.0,430.2 176.1,438.1 179.4,447.3 181.9,440.0 184.7,438.5 188.0,449.1 190.8,446.9 194.4,444.2 197.5,436.8 200.3,451.9 203.2,445.8 206.3,447.3 209.5,438.1 212.4,432.6 215.2,435.0 217.9,423.8 221.0,425.3 224.7,422.5 227.4,420.3 230.2,419.4 233.5,434.1 236.3,425.3 239.4,404.5 242.1,412.4 245.4,412.8 248.6,434.4 251.3,443.6 254.1,444.2 257.2,439.0 260.5,433.5 263.8,435.7 266.5,449.1 269.3,448.8 272.4,467.1 275.2,460.1 278.5,466.2 281.6,463.8 284.3,456.5 288.0,446.4 293.1,465.3 296.3,463.4 299.4,461.4 302.7,457.8 305.4,461.4 308.6,466.6 311.9,471.7 314.6,474.4 317.4,468.4 320.1,458.9 323.2,457.9 326.2,449.5 329.3,455.0 332.4,453.3 335.7,455.2 338.5,458.3 341.2,464.4 344.3,445.1 347.1,457.4 350.4,465.6 353.5,469.3 356.8,468.9 359.6,461.4 362.3,484.5 365.1,486.2 368.4,490.4 371.5,485.8 374.2,473.0 377.4,460.5 380.3,466.2 383.4,471.7 386.5,475.4 389.5,476.3 392.6,455.0 395.7,453.7 398.6,463.3 401.8,463.8 404.9,469.3 407.8,469.7 410.6,470.2 413.3,456.5 416.4,440.3 419.2,445.5 421.9,468.4 425.2,475.7 428.4,481.2 431.5,503.6 434.2,479.4 437.5,488.0 440.3,486.7 443.6,492.2 446.7,495.4 449.5,487.7 452.6,478.5 455.3,469.7 458.6,477.0 461.4,478.1 464.5,469.3 467.4,460.5 470.2,461.4 473.3,468.4 476.4,467.5 479.4,468.4 482.5,464.7 485.2,461.1 488.0,459.2 491.3,461.4 494.4,457.0 497.5,450.4 500.5,455.6 503.6,459.2 506.3,454.1 509.5,449.5 512.4,450.0 515.5,444.5 518.3,443.3 521.0,463.8 524.1,464.7 527.1,481.2 529.8,483.6 533.3,478.5 536.3,482.2 539.4,469.3 542.5,484.5 545.4,494.1 548.6,489.1 551.7,484.5 554.4,491.3 557.4,507.3 560.5,488.6 563.6,488.2 566.5,486.2 569.3,473.0 572.4,468.9 575.5,465.3 578.5,462.3 581.6,457.4 584.7,454.3 587.6,452.4 590.4,448.2 593.5,438.1 596.6,435.7 599.4,421.6 602.3,440.9 605.4,444.2 608.6,434.4 611.3,498.1 614.2,488.6 617.4,495.0 620.5,459.6 623.4,462.9 626.2,463.8 629.3,458.7 632.4,484.4 635.3,486.2 638.5,483.4 641.6,483.6 644.5,484.9 647.6,477.6 650.8,473.9 653.7,470.8 656.8,466.2 659.9,466.6 662.3,467.1 665.4,463.8 668.4,483.1 671.5,469.3 674.2,472.1 677.0,483.6 680.1,485.3 683.4,484.9 686.2,480.3 689.8,476.7 692.6,464.4 695.3,464.7 698.5,470.8 701.4,474.4 704.5,460.5 707.3,468.9 710.4,462.9 713.3,461.4 716.4,461.4 719.2,460.5 722.5,462.3 725.2,460.7 728.4,459.6 731.5,462.3 734.4,446.7 737.5,437.6 740.3,458.9 743.0,460.1 746.3,463.3 749.5,458.9 752.6,466.2 755.5,466.2 758.6,463.8 761.4,436.8 764.5,440.3 767.4,443.3 770.6,443.3 773.3,440.5 776.6,480.7 779.7,436.3 782.5,416.7 785.6,422.2 788.6,430.8 791.7,437.6 794.4,457.4 797.5,482.2 800.5,478.5 803.6,472.6 806.3,480.9 809.5,487.3 812.4,493.2 815.5,495.4 818.6,492.2 821.0,492.6 824.3,499.2 827.4,497.8 830.2,497.2 833.3,491.3 836.3,491.0 839.4,482.7 842.5,479.8 845.4,484.0 848.6,490.0 851.3,491.3 854.4,491.0 857.4,484.9 860.5,487.3 863.6,489.5 866.5,492.2 869.7,492.2 872.4,472.4 875.2,473.9 878.5,479.4 881.6,475.4 884.3,480.3 888.0,480.4 890.8,474.8 893.6,475.4 896.4,474.5 899.5,483.2 902.5,485.4 905.6,493.4 908.4,491.5 911.6,486.0 914.5,480.4 917.3,470.2 920.5,494.3 923.3,475.7 926.4,482.2 929.4,490.2 932.6,478.9 935.7,480.4 938.5,491.5 941.5,502.7 944.6,504.2 947.4,505.5 950.6,508.2 953.5,508.6 956.7,508.2 959.5,504.5 962.6,508.2 965.6,500.4 968.4,492.8 971.5,492.5 974.7,494.3 977.7,494.3 980.4,484.7 983.6,482.6 986.8,488.4 989.5,479.8 992.5,485.4 995.7,485.0 998.8,490.0 1001.6,491.2 1004.6,478.9 1007.4,478.5 1010.1,456.8 1013.3,455.0 1016.5,454.8 1019.4,464.6 1022.2,473.3 1025.4,477.2 1028.5,486.9 1031.5,493.4 1034.6,486.0 1037.4,489.1 1040.6,476.7 1043.6,487.3 1046.3,464.6 1049.5,459.6 1052.3,474.5 1055.1,476.3 1058.4,468.0 1061.6,465.2 1064.4,460.9 1067.5,446.6 1070.5,445.1 1073.6,456.3 1076.4,447.9 1079.6,449.8 1082.5,439.2 1085.3,431.6 1088.5,440.1 1091.6,433.4 1094.6,430.8 1097.4,426.6 1100.5,446.0 1102.8,442.9" fill="none" stroke="#33ade0" stroke-width="1" stroke-linejoin="round" />
<path d="M92.5 571V578M95.5 565V578M98.5 564V578M101.5 561V578M104.5 563V578M107.5 569V578M110.5 570V578M113.5 569V578M116.5 568V578M119.5 568V578M122.5 569V578M125.5 571V578M128.5 573V578M131.5 574V578M134.5 576V578M137.5 577V578M167.5 576V578M170.5 573V578M173.5 571V578M176.5 571V578M179.5 573V578M182.5 573V578M185.5 573V578M188.5 575V578M191.5 576V578M194.5 576V578M197.5 575V578M209.5 576V578M212.5 575V578M215.5 574V578M218.5 572V578M221.5 570V578M224.5 570V578M227.5 570V578M230.5 570V578M233.5 572V578M236.5 572V578M239.5 564V578M242.5 561V578M245.5 560V578M248.5 564V578M251.5 569V578M254.5 573V578M257.5 575V578M260.5 575V578M263.5 576V578M332.5 576V578M335.5 577V578M338.5 577V578M344.5 576V578M347.5 577V578M392.5 577V578M395.5 573V578M398.5 573V578M401.5 573V578M404.5 574V578M407.5 575V578M410.5 575V578M413.5 574V578M416.5 572V578M419.5 569V578M422.5 572V578M425.5 576V578M464.5 575V578M467.5 571V578M470.5 569V578M473.5 569V578M476.5 570V578M479.5 570V578M482.5 570V578M485.5 570V578M488.5 569V578M491.5 570V578M494.5 570V578M497.5 569V578M500.5 569V578M503.5 571V578M506.5 571V578M509.5 572V578M512.5 571V578M515.5 571V578M518.5 571V578M521.5 573V578M524.5 575V578M575.5 574V578M578.5 572V578M581.5 571V578M584.5 569V578M587.5 569V578M590.5 567V578M593.5 565V578M596.5 565V578M599.5 561V578M602.5 562V578M605.5 564V578M608.5 563V578M629.5 574V578M659.5 574V578M662.5 573V578M665.5 571V578M668.5 576V578M671.5 575V578M674.5 575V578M692.5 577V578M695.5 574V578M698.5 573V578M701.5 574V578M704.5 571V578M707.5 572V578M710.5 570V578M713.5 570V578M716.5 570V578M719.5 570V578M722.5 570V578M725.5 571V578M728.5 571V578M731.5 571V578M734.5 570V578M737.5 567V578M740.5 569V578M743.5 570V578M746.5 573V578M749.5 574V578M752.5 576V578M761.5 572V578M764.5 569V578M767.5 569V578M770.5 569V578M773.5 569V578M776.5 576V578M779.5 570V578M782.5 551V578M785.5 541V578M788.5 540V578M791.5 544V578M794.5 556V578M857.5 576V578M860.5 575V578M863.5 575V578M866.5 575V578M869.5 575V578M872.5 570V578M875.5 567V578M878.5 567V578M881.5 567V578M884.5 567V578M887.5 569V578M890.5 568V578M893.5 568V578M896.5 568V578M899.5 570V578M902.5 572V578M905.5 575V578M908.5 576V578M911.5 576V578M914.5 575V578M917.5 573V578M920.5 577V578M923.5 575V578M926.5 576V578M935.5 576V578M971.5 576V578M974.5 575V578M977.5 573V578M980.5 571V578M983.5 569V578M986.5 569V578M989.5 567V578M992.5 568V578M995.5 568V578M998.5 569V578M1001.5 570V578M1004.5 570V578M1007.5 569V578M1010.5 565V578M1013.5 564V578M1016.5 563V578M1019.5 565V578M1022.5 567V578M1025.5 569V578M1028.5 573V578M1031.5 576V578M1046.5 575V578M1049.5 572V578M1052.5 574V578M1055.5 574V578M1058.5 574V578M1061.5 573V578M1064.5 572V578M1067.5 569V578M1070.5 567V578M1073.5 568V578M1076.5 567V578M1079.5 567V578M1082.5 566V578M1085.5 563V578M1088.5 564V578M1091.5 563V578M1094.5 563V578M1097.5 562V578M1100.5 566V578M1103.5 567V578" stroke="#ea4a62" stroke-width="1" fill="none" shape-rendering="crispEdges"/>
<path d="M140.5 577V578M143.5 577V578M146.5 577V581M149.5 577V583M152.5 577V584M155.5 577V586M158.5 577V587M161.5 577V585M164.5 577V582M200.5 577V578M203.5 577V578M206.5 577V578M266.5 577V579M269.5 577V582M272.5 577V588M275.5 577V588M278.5 577V590M281.5 577V592M284.5 577V590M287.5 577V585M290.5 577V586M293.5 577V587M296.5 577V587M299.5 577V586M302.5 577V585M305.5 577V584M308.5 577V585M311.5 577V586M314.5 577V587M317.5 577V587M320.5 577V584M323.5 577V582M326.5 577V578M329.5 577V578M341.5 577V578M350.5 577V578M353.5 577V580M356.5 577V581M359.5 577V581M362.5 577V584M365.5 577V586M368.5 577V589M371.5 577V588M374.5 577V587M377.5 577V582M380.5 577V580M383.5 577V580M386.5 577V580M389.5 577V579M428.5 577V580M431.5 577V588M434.5 577V587M437.5 577V589M440.5 577V589M443.5 577V590M446.5 577V591M449.5 577V589M452.5 577V585M455.5 577V581M458.5 577V579M461.5 577V578M527.5 577V580M530.5 577V583M533.5 577V584M536.5 577V584M539.5 577V583M542.5 577V585M545.5 577V587M548.5 577V587M551.5 577V586M554.5 577V585M557.5 577V589M560.5 577V587M563.5 577V584M566.5 577V583M569.5 577V580M572.5 577V578M611.5 577V578M614.5 577V585M617.5 577V592M620.5 577V583M623.5 577V579M626.5 577V578M632.5 577V582M635.5 577V588M638.5 577V588M641.5 577V590M644.5 577V590M647.5 577V588M650.5 577V584M653.5 577V582M656.5 577V578M677.5 577V580M680.5 577V582M683.5 577V582M686.5 577V582M689.5 577V582M755.5 577V578M758.5 577V578M797.5 577V578M800.5 577V590M803.5 577V594M806.5 577V602M809.5 577V609M812.5 577V616M815.5 577V618M818.5 577V618M821.5 577V616M824.5 577V617M827.5 577V614M830.5 577V611M833.5 577V604M836.5 577V598M839.5 577V592M842.5 577V585M845.5 577V581M848.5 577V581M851.5 577V581M854.5 577V580M929.5 577V578M932.5 577V578M938.5 577V579M941.5 577V586M944.5 577V589M947.5 577V590M950.5 577V591M953.5 577V591M956.5 577V590M959.5 577V588M962.5 577V586M965.5 577V583M968.5 577V579M1034.5 577V578M1037.5 577V578M1040.5 577V578M1043.5 577V578" stroke="#4db88a" stroke-width="1" fill="none" shape-rendering="crispEdges"/>
<polyline points="92.0,572.7 97.7,570.2 101.7,567.3 105.8,566.7 110.6,564.6 117.1,562.2 125.1,559.3 133.2,558.6 139.7,559.4 147.7,559.4 154.2,562.2 160.6,564.3 167.1,564.3 175.2,563.5 183.2,562.2 191.3,561.4 201.0,561.4 212.3,561.4 220.4,559.7 228.4,556.8 236.5,555.4 243.0,551.7 249.4,547.6 255.9,547.3 262.3,546.5 268.8,547.6 275.2,550.9 281.7,553.8 288.0,556.8 296.1,559.4 305.8,562.6 313.8,565.4 323.5,568.3 333.2,568.6 342.9,568.6 352.6,568.3 360.6,569.4 368.7,572.7 374.4,575.6 381.6,576.4 388.1,577.0 392.9,577.0 399.4,575.4 407.5,575.6 413.9,575.1 418.8,573.0 425.2,572.3 430.1,573.5 436.5,576.7 443.0,579.6 449.4,582.8 454.3,584.8 460.7,585.6 465.6,584.4 473.6,581.5 481.7,579.1 488.0,578.3 494.5,575.6 500.9,573.5 510.6,571.9 518.7,570.7 523.5,569.4 531.6,571.4 541.3,574.3 551.0,577.5 559.0,580.7 567.1,582.7 575.2,583.1 583.2,579.9 591.3,577.0 599.4,573.5 604.2,571.0 609.1,568.9 613.9,571.4 620.4,572.7 629.2,572.7 634.9,574.3 641.3,577.5 647.8,580.7 654.3,581.9 660.7,581.2 667.2,580.2 673.6,579.6 680.1,581.2 688.0,582.8 696.1,581.9 704.1,580.7 712.2,578.3 720.3,576.4 730.0,574.3 736.4,572.7 742.9,570.7 751.0,569.4 759.0,569.4 767.1,567.3 773.6,565.9 778.4,564.6 783.2,558.1 788.1,551.7 792.9,546.0 796.2,544.9 801.0,546.8 807.5,553.3 813.9,563.0 820.4,574.3 826.8,584.8 833.3,593.6 836.5,598.0 843.0,599.0 849.4,600.1 855.9,600.6 862.3,599.6 868.8,599.3 875.2,597.7 881.7,595.3 888.0,591.8 897.3,588.6 906.6,587.3 917.7,586.8 928.8,586.8 938.1,587.2 945.5,590.5 953.0,595.1 960.4,598.8 967.8,599.8 977.1,598.8 984.5,596.1 992.0,593.3 999.4,591.1 1006.8,589.6 1014.2,585.9 1021.7,583.1 1029.1,581.2 1036.5,580.8 1043.9,581.8 1051.4,580.3 1058.8,579.7 1066.2,578.4 1073.6,574.7 1081.1,571.0 1088.5,568.2 1095.9,564.5 1102.8,561.2" fill="none" stroke="#45c48c" stroke-width="1" stroke-linejoin="round" />
<polyline points="92.0,571.0 95.3,565.4 98.5,563.0 101.7,560.2 104.1,559.4 108.2,561.4 111.4,560.9 116.2,558.1 121.9,556.2 126.7,557.3 132.4,557.6 136.4,558.9 142.9,560.2 148.5,562.2 154.2,566.2 159.0,568.6 162.3,567.8 167.1,564.6 173.6,560.2 180.0,560.2 184.9,559.4 191.3,560.6 197.8,560.2 204.2,561.4 210.7,560.9 215.5,558.9 220.4,556.5 226.8,554.9 230.1,553.8 236.5,553.3 238.9,548.9 243.0,544.1 245.9,541.2 249.4,543.1 255.9,546.0 262.3,546.5 267.2,549.3 273.6,554.9 278.5,558.9 281.7,561.7 284.9,561.4 288.0,560.2 292.8,563.3 298.5,565.4 304.9,565.4 310.6,568.3 317.1,571.5 323.5,570.2 328.4,568.9 336.4,568.6 341.3,569.4 344.5,567.5 349.3,567.8 354.2,569.4 359.8,570.6 365.5,575.4 370.3,579.4 376.0,579.1 380.0,577.5 384.9,577.0 389.7,578.3 394.5,574.3 401.0,573.5 405.8,574.6 412.3,574.3 417.1,571.0 420.4,569.4 425.2,571.9 428.4,574.3 431.7,579.1 436.5,581.9 441.3,585.6 446.2,587.2 449.4,589.6 455.9,587.2 462.3,584.8 467.2,581.2 472.0,578.8 476.9,577.5 481.7,577.0 488.0,573.5 494.5,572.7 502.5,571.0 512.2,568.3 518.7,567.5 523.5,569.4 530.0,573.5 539.7,576.7 547.7,580.4 554.2,583.1 559.8,586.7 567.1,586.4 573.6,583.1 580.0,579.1 586.5,576.4 592.9,572.2 597.8,567.8 601.0,564.6 605.8,564.3 608.3,563.0 612.3,570.2 617.1,577.5 622.0,574.8 629.2,571.9 633.3,576.7 636.5,581.5 641.3,584.4 647.8,584.8 654.3,581.9 660.7,579.9 665.6,578.0 670.4,579.6 674.4,578.3 678.5,581.5 683.3,584.4 688.0,584.4 694.5,581.2 700.9,580.7 707.4,577.5 713.8,575.6 720.3,573.5 726.7,571.9 733.2,571.4 737.2,567.8 742.9,567.5 749.3,568.6 757.4,570.2 760.6,566.2 765.5,563.8 772.7,561.7 776.0,564.6 779.2,563.0 781.6,552.5 784.9,540.4 788.1,534.7 791.3,532.3 794.5,535.5 797.8,546.8 801.0,554.1 805.8,561.4 810.7,573.5 815.5,587.2 820.4,594.4 826.8,604.1 833.3,607.4 838.1,606.6 844.6,601.7 854.3,601.2 859.1,600.1 863.9,598.5 868.8,599.3 875.2,592.0 881.7,589.6 888.0,588.3 893.6,585.5 901.0,584.9 906.6,587.3 914.0,586.4 917.7,585.5 921.4,586.4 927.0,586.2 938.1,587.7 943.7,594.2 949.3,598.8 955.8,602.6 964.1,602.9 969.7,600.7 977.1,597.5 984.5,593.3 992.0,589.9 999.4,588.6 1006.8,586.4 1012.4,581.6 1017.9,578.4 1025.4,578.1 1030.9,580.3 1038.4,581.8 1043.9,581.8 1049.5,579.4 1056.9,579.0 1062.5,578.4 1068.1,573.2 1075.5,569.1 1082.9,565.4 1090.3,560.8 1097.8,556.2 1102.8,556.2" fill="none" stroke="#3a8ff0" stroke-width="1" stroke-linejoin="round" />
<text x="1111.8" y="629.8" font-size="33" fill="#cbb3a4" text-anchor="start" font-weight="normal" font-family='"Liberation Sans","Noto Sans CJK SC",sans-serif' textLength="98" lengthAdjust="spacing" opacity="0.9">FX678</text>
<text x="1110.6" y="628.6" font-size="33" fill="#dbe5f4" text-anchor="start" font-weight="normal" font-family='"Liberation Sans","Noto Sans CJK SC",sans-serif' textLength="98" lengthAdjust="spacing">FX678</text>
</svg>
</body></html>
